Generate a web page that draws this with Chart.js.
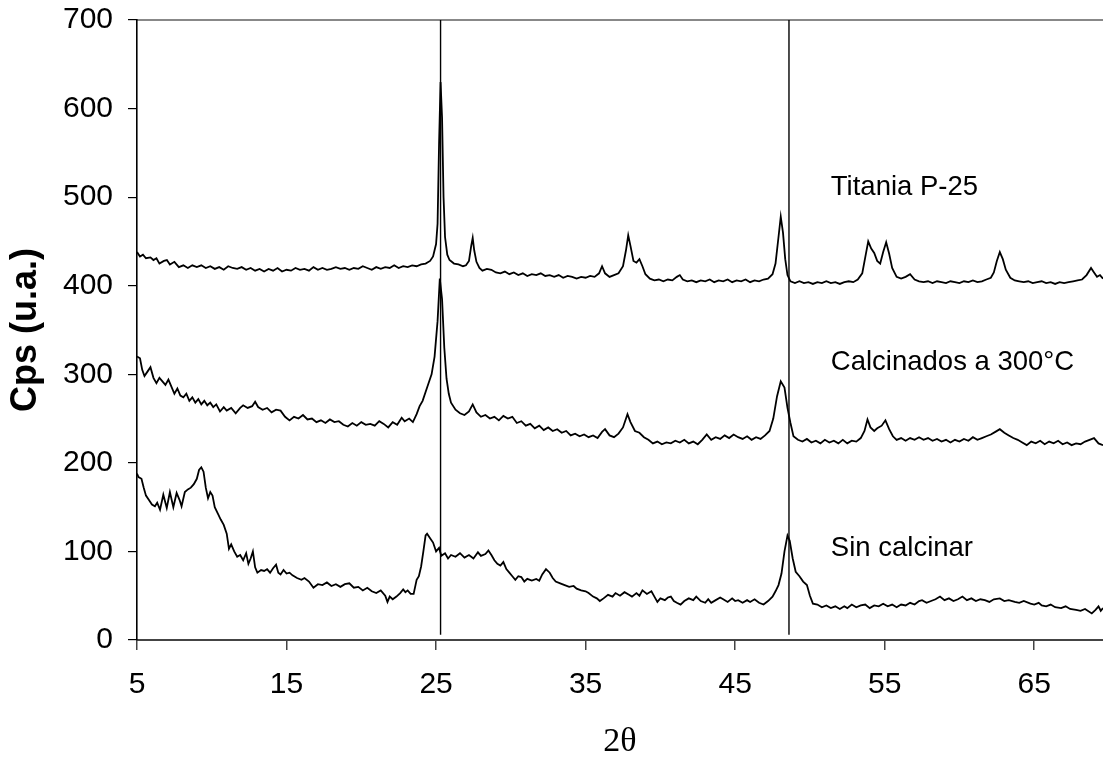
<!DOCTYPE html>
<html>
<head>
<meta charset="utf-8">
<script src="https://cdn.jsdelivr.net/npm/chart.js@4.4.1/dist/chart.umd.min.js"></script>
<style>
  html, body { margin: 0; padding: 0; background: #fff; }
  canvas { display: block; }
</style>
</head>
<body>
<canvas id="xrd-chart" width="1103" height="757"></canvas>
<script>
// axis ticks
const xTickValues = [5, 15, 25, 35, 45, 55, 65];
const yTickValues = [0, 100, 200, 300, 400, 500, 600, 700];

// [2theta, cps] pairs
const titania = [
    [5.0, 438], [5.2, 433], [5.4, 435], [5.6, 431], [5.9, 432], [6.1, 429], [6.3, 431], [6.5, 425], [6.8, 428], [7.0, 429],
    [7.2, 424], [7.5, 427], [7.8, 421], [8.1, 423], [8.4, 420], [8.7, 423], [9.0, 421], [9.3, 423], [9.6, 420], [9.9, 422],
    [10.2, 419], [10.5, 421], [10.8, 418], [11.1, 422], [11.4, 420], [11.7, 419], [12.0, 421], [12.3, 418], [12.6, 420], [12.9, 417],
    [13.2, 419], [13.5, 416], [13.8, 419], [14.1, 417], [14.4, 420], [14.7, 416], [15.0, 418], [15.3, 417], [15.6, 420], [15.9, 418],
    [16.2, 419], [16.5, 417], [16.8, 421], [17.1, 418], [17.4, 420], [17.7, 418], [18.0, 419], [18.3, 421], [18.6, 419], [18.9, 420],
    [19.2, 418], [19.5, 420], [19.8, 419], [20.1, 422], [20.4, 420], [20.7, 418], [21.0, 421], [21.3, 419], [21.6, 421], [21.9, 420],
    [22.2, 423], [22.5, 420], [22.8, 422], [23.1, 421], [23.4, 423], [23.7, 422], [24.0, 424], [24.3, 425], [24.6, 428], [24.8, 433],
    [25.0, 447], [25.1, 470], [25.2, 560], [25.3, 630], [25.4, 590], [25.5, 500], [25.6, 455], [25.75, 435], [25.9, 429], [26.2, 425],
    [26.5, 424], [26.8, 422], [27.0, 423], [27.2, 428], [27.35, 445], [27.45, 454], [27.55, 440], [27.7, 427], [27.9, 420], [28.1, 417],
    [28.4, 419], [28.7, 418], [29.0, 415], [29.3, 414], [29.6, 416], [29.9, 413], [30.2, 415], [30.5, 412], [30.8, 414], [31.1, 411],
    [31.4, 413], [31.7, 412], [32.0, 414], [32.3, 411], [32.6, 412], [32.9, 410], [33.2, 412], [33.5, 409], [33.8, 411], [34.1, 410],
    [34.4, 408], [34.7, 410], [35.0, 409], [35.3, 411], [35.6, 410], [35.9, 414], [36.1, 422], [36.3, 414], [36.6, 410], [36.9, 412],
    [37.2, 414], [37.5, 422], [37.7, 440], [37.85, 457], [38.0, 445], [38.2, 428], [38.4, 426], [38.6, 430], [38.8, 422], [39.0, 413],
    [39.3, 408], [39.6, 406], [39.9, 407], [40.2, 405], [40.5, 407], [40.8, 406], [41.1, 410], [41.3, 412], [41.5, 407], [41.8, 405],
    [42.1, 406], [42.4, 404], [42.7, 406], [43.0, 405], [43.3, 407], [43.6, 404], [43.9, 406], [44.2, 405], [44.5, 407], [44.8, 404],
    [45.1, 406], [45.4, 405], [45.7, 407], [46.0, 404], [46.3, 406], [46.6, 405], [46.9, 407], [47.2, 408], [47.5, 413], [47.7, 425],
    [47.9, 455], [48.05, 478], [48.2, 460], [48.35, 430], [48.5, 412], [48.7, 405], [49.0, 403], [49.3, 405], [49.6, 403], [49.9, 404],
    [50.2, 402], [50.5, 404], [50.8, 403], [51.1, 405], [51.4, 403], [51.7, 404], [52.0, 402], [52.3, 404], [52.6, 405], [52.9, 404],
    [53.2, 407], [53.5, 414], [53.7, 432], [53.9, 450], [54.1, 442], [54.3, 437], [54.5, 428], [54.7, 425], [54.9, 438], [55.1, 449],
    [55.3, 436], [55.5, 420], [55.8, 410], [56.1, 408], [56.4, 410], [56.7, 413], [57.0, 407], [57.3, 405], [57.6, 404], [57.9, 405],
    [58.2, 403], [58.5, 405], [58.8, 404], [59.1, 403], [59.4, 405], [59.7, 404], [60.0, 403], [60.3, 405], [60.6, 404], [60.9, 406],
    [61.2, 404], [61.5, 405], [61.8, 407], [62.1, 409], [62.3, 415], [62.5, 428], [62.7, 438], [62.9, 430], [63.1, 418], [63.4, 409],
    [63.7, 406], [64.0, 405], [64.3, 404], [64.6, 405], [64.9, 403], [65.2, 404], [65.5, 405], [65.8, 403], [66.1, 404], [66.4, 402],
    [66.7, 404], [67.0, 403], [67.3, 404], [67.6, 405], [67.9, 406], [68.2, 407], [68.5, 412], [68.8, 420], [69.0, 415], [69.2, 410],
    [69.4, 412], [69.6, 408]
];

const calcinados = [
    [5.0, 320], [5.2, 318], [5.35, 305], [5.5, 298], [5.7, 303], [5.9, 308], [6.1, 296], [6.3, 290], [6.5, 296], [6.7, 292],
    [6.9, 288], [7.1, 294], [7.3, 286], [7.5, 278], [7.7, 284], [7.9, 276], [8.1, 274], [8.3, 278], [8.5, 270], [8.7, 274],
    [8.9, 268], [9.1, 272], [9.3, 266], [9.5, 270], [9.7, 265], [9.9, 268], [10.1, 263], [10.3, 266], [10.55, 258], [10.8, 263],
    [11.0, 259], [11.3, 262], [11.6, 256], [11.9, 262], [12.1, 265], [12.4, 262], [12.7, 264], [12.9, 269], [13.1, 263], [13.4, 260],
    [13.7, 262], [14.0, 257], [14.3, 260], [14.6, 259], [14.9, 252], [15.2, 248], [15.5, 252], [15.8, 250], [16.1, 254], [16.4, 249],
    [16.7, 250], [17.0, 246], [17.3, 248], [17.6, 245], [17.9, 249], [18.2, 246], [18.5, 247], [18.8, 243], [19.1, 241], [19.4, 245],
    [19.7, 242], [20.0, 246], [20.3, 243], [20.6, 244], [20.9, 242], [21.2, 247], [21.5, 244], [21.8, 240], [22.1, 246], [22.4, 243],
    [22.7, 251], [22.9, 247], [23.2, 250], [23.45, 246], [23.7, 255], [23.9, 264], [24.1, 270], [24.4, 285], [24.7, 300], [24.9, 320],
    [25.1, 360], [25.25, 408], [25.4, 385], [25.55, 330], [25.7, 295], [25.85, 278], [26.0, 268], [26.3, 260], [26.6, 256], [26.9, 254],
    [27.2, 258], [27.45, 266], [27.7, 257], [28.0, 252], [28.3, 254], [28.6, 250], [28.9, 252], [29.2, 248], [29.5, 253], [29.8, 250],
    [30.1, 252], [30.4, 245], [30.7, 247], [31.0, 242], [31.3, 244], [31.6, 239], [31.9, 242], [32.2, 237], [32.5, 240], [32.8, 236],
    [33.1, 238], [33.4, 234], [33.7, 236], [34.0, 231], [34.3, 233], [34.6, 230], [34.9, 232], [35.2, 229], [35.5, 231], [35.8, 228],
    [36.1, 235], [36.3, 238], [36.6, 231], [36.9, 229], [37.2, 233], [37.5, 240], [37.8, 255], [38.0, 246], [38.3, 236], [38.6, 234],
    [38.9, 229], [39.2, 226], [39.5, 222], [39.8, 224], [40.1, 221], [40.4, 223], [40.7, 222], [41.0, 225], [41.3, 223], [41.6, 226],
    [41.9, 222], [42.2, 224], [42.5, 221], [42.8, 226], [43.1, 232], [43.4, 226], [43.7, 229], [44.0, 227], [44.3, 231], [44.6, 228],
    [44.9, 232], [45.2, 229], [45.5, 227], [45.8, 230], [46.1, 226], [46.4, 229], [46.7, 227], [47.0, 231], [47.3, 236], [47.55, 250],
    [47.8, 275], [48.05, 292], [48.3, 285], [48.5, 262], [48.7, 245], [48.9, 230], [49.2, 226], [49.5, 224], [49.8, 227], [50.1, 223],
    [50.4, 225], [50.7, 222], [51.0, 226], [51.3, 223], [51.6, 225], [51.9, 222], [52.2, 226], [52.5, 222], [52.8, 225], [53.1, 224],
    [53.4, 228], [53.65, 236], [53.85, 249], [54.05, 240], [54.3, 236], [54.5, 239], [54.8, 242], [55.05, 248], [55.3, 238], [55.55, 230],
    [55.8, 226], [56.1, 228], [56.4, 225], [56.7, 228], [57.0, 226], [57.3, 229], [57.6, 226], [57.9, 228], [58.2, 225], [58.5, 227],
    [58.8, 224], [59.1, 226], [59.4, 223], [59.7, 226], [60.0, 224], [60.3, 227], [60.6, 225], [60.9, 229], [61.2, 226], [61.5, 228],
    [61.8, 230], [62.1, 232], [62.4, 235], [62.7, 238], [63.0, 234], [63.3, 231], [63.6, 228], [63.9, 226], [64.2, 223], [64.5, 220],
    [64.8, 224], [65.1, 222], [65.4, 225], [65.7, 221], [66.0, 224], [66.3, 222], [66.6, 225], [66.9, 221], [67.2, 223], [67.5, 220],
    [67.8, 222], [68.1, 221], [68.4, 224], [68.7, 226], [69.0, 228], [69.3, 222], [69.6, 220]
];

const sinCalcinar = [
    [5.0, 188], [5.1, 184], [5.3, 182], [5.45, 172], [5.6, 163], [5.8, 158], [6.0, 153], [6.2, 151], [6.35, 155], [6.54, 147],
    [6.76, 164], [6.99, 149], [7.2, 167], [7.43, 150], [7.65, 166], [7.85, 158], [7.98, 151], [8.2, 167], [8.4, 170], [8.6, 172],
    [8.8, 176], [9.0, 182], [9.15, 192], [9.3, 195], [9.45, 190], [9.6, 172], [9.75, 160],
    [9.9, 167], [10.05, 163], [10.2, 150], [10.4, 143], [10.6, 136], [10.8, 130], [11.0, 120], [11.15, 103], [11.3, 108], [11.5, 100],
    [11.7, 94], [11.9, 96], [12.1, 90], [12.3, 98], [12.45, 86], [12.6, 92], [12.75, 100], [12.9, 82], [13.05, 76], [13.3, 79],
    [13.5, 78], [13.7, 80], [13.9, 76], [14.1, 81], [14.3, 85], [14.45, 76], [14.6, 74], [14.8, 79], [15.0, 75], [15.2, 76],
    [15.4, 73], [15.7, 70], [16.0, 68], [16.2, 70], [16.5, 66], [16.8, 59], [17.1, 63], [17.4, 62], [17.7, 65], [18.0, 61],
    [18.3, 63], [18.6, 60], [18.9, 63], [19.2, 64], [19.5, 59], [19.8, 60], [20.1, 56], [20.4, 59], [20.7, 55], [21.0, 53],
    [21.3, 56], [21.6, 50], [21.75, 43], [21.9, 49], [22.1, 46], [22.35, 49], [22.6, 53], [22.8, 57], [22.95, 54], [23.1, 56],
    [23.3, 52], [23.5, 52], [23.7, 68], [23.85, 72], [24.0, 83], [24.15, 100], [24.3, 118], [24.4, 120], [24.6, 115], [24.8, 110],
    [25.0, 100], [25.2, 104], [25.35, 95], [25.6, 98], [25.8, 92], [26.0, 96], [26.3, 94], [26.6, 98], [26.9, 93], [27.2, 96],
    [27.5, 92], [27.8, 99], [28.0, 95], [28.3, 97], [28.5, 101], [28.7, 96], [28.9, 90], [29.1, 86], [29.3, 84], [29.5, 88],
    [29.7, 80], [29.9, 76], [30.1, 72], [30.3, 68], [30.5, 72], [30.7, 71], [30.9, 66], [31.1, 69], [31.4, 67], [31.7, 69],
    [31.9, 67], [32.1, 74], [32.35, 80], [32.6, 76], [32.8, 70], [33.0, 66], [33.3, 64], [33.6, 62], [33.9, 60], [34.2, 61],
    [34.4, 58], [34.7, 56], [35.0, 55], [35.2, 53], [35.5, 49], [35.75, 47], [35.95, 44], [36.2, 47], [36.5, 51], [36.8, 49],
    [37.0, 53], [37.3, 50], [37.6, 54], [37.9, 51], [38.1, 49], [38.4, 53], [38.6, 50], [38.8, 56], [39.1, 52], [39.4, 55],
    [39.6, 49], [39.8, 43], [40.0, 47], [40.3, 45], [40.5, 48], [40.7, 49], [40.9, 44], [41.1, 42], [41.35, 40], [41.6, 44],
    [41.9, 47], [42.2, 45], [42.4, 49], [42.7, 44], [43.0, 42], [43.2, 46], [43.4, 42], [43.7, 45], [44.0, 48], [44.2, 46],
    [44.5, 43], [44.8, 47], [45.0, 44], [45.2, 45], [45.5, 42], [45.8, 45], [46.0, 43], [46.3, 46], [46.6, 42], [46.9, 40],
    [47.2, 44], [47.5, 49], [47.7, 55], [47.9, 62], [48.1, 75], [48.3, 100], [48.5, 118], [48.65, 112], [48.85, 92], [49.05, 77],
    [49.3, 72], [49.55, 66], [49.8, 62], [50.0, 50], [50.2, 41], [50.5, 40], [50.8, 37], [51.1, 39], [51.4, 36], [51.7, 38],
    [52.0, 35], [52.3, 38], [52.5, 36], [52.8, 40], [53.1, 37], [53.4, 39], [53.7, 40], [54.0, 36], [54.3, 39], [54.6, 38],
    [54.9, 41], [55.2, 38], [55.5, 40], [55.8, 37], [56.1, 40], [56.4, 39], [56.7, 42], [57.0, 40], [57.3, 44], [57.5, 45],
    [57.8, 42], [58.1, 44], [58.4, 46], [58.7, 49], [59.0, 45], [59.3, 47], [59.6, 44], [59.9, 46], [60.2, 49], [60.5, 45],
    [60.8, 47], [61.1, 44], [61.4, 46], [61.7, 45], [62.0, 43], [62.3, 46], [62.7, 47], [63.0, 44], [63.3, 45], [63.7, 43],
    [64.0, 42], [64.3, 44], [64.75, 41], [65.0, 40], [65.3, 42], [65.5, 39], [65.8, 38], [66.1, 40], [66.4, 37], [66.8, 36],
    [67.1, 38], [67.4, 35], [67.8, 34], [68.1, 33], [68.4, 35], [68.85, 30], [69.1, 34], [69.3, 38], [69.45, 33], [69.6, 36]
];

// vertical marker lines at the anatase peaks
const refLineX = [25.3, 48.6];
const refLineRange = [6, 700];

// curve labels
const labelText = ['Titania P-25', 'Calcinados a 300\u00B0C', 'Sin calcinar'];
const labelX = [51.4, 51.4, 51.4];
const labelY = [511, 313, 103];

const sansFont = 'Arial, "Liberation Sans", sans-serif';
const toPoints = (pairs) => pairs.map(p => ({ x: p[0], y: p[1] }));

var datasets = [
    { data: toPoints(titania) },
    { data: toPoints(calcinados) },
    { data: toPoints(sinCalcinar) }
].map(ds => Object.assign(ds, { borderColor: '#000', borderWidth: 1.8, pointRadius: 0, tension: 0 }));

refLineX.forEach(x => {
    datasets.push({
        data: refLineRange.map(y => ({ x: x, y: y })),
        borderColor: '#000',
        borderWidth: 1.4,
        pointRadius: 0
    });
});

// draws the text next to each curve
const curveLabels = {
    id: 'curveLabels',
    afterDatasetsDraw(chart) {
        const { ctx, scales } = chart;
        ctx.save();
        ctx.font = '27.5px ' + sansFont;
        ctx.fillStyle = '#000';
        ctx.textAlign = 'left';
        ctx.textBaseline = 'middle';
        labelText.forEach((t, i) => {
            ctx.fillText(t, scales.x.getPixelForValue(labelX[i]), scales.y.getPixelForValue(labelY[i]));
        });
        ctx.restore();
    }
};

var chart = new Chart(document.getElementById('xrd-chart'), {
    type: 'line',
    data: { datasets: datasets },
    plugins: [curveLabels],
    options: {
        responsive: false,
        animation: false,
        devicePixelRatio: 1,
        layout: { padding: { top: 20, left: 0, right: 0, bottom: 0 } },
        plugins: { legend: { display: false }, tooltip: { enabled: false } },
        scales: {
            x: {
                type: 'linear',
                position: 'bottom',
                min: 5,
                max: 69.6,
                afterBuildTicks: (axis) => { axis.ticks = xTickValues.map(v => ({ value: v })); },
                afterFit: (axis) => { axis.height = 117; axis.paddingLeft = 0; axis.paddingRight = 0; },
                grid: { drawOnChartArea: false, drawTicks: true, tickLength: 10, color: '#444', lineWidth: 1.5 },
                border: { display: true, color: '#444', width: 2 },
                ticks: { color: '#000', padding: 17, maxRotation: 0, autoSkip: false, font: { family: sansFont, size: 30 } },
                title: {
                    display: true,
                    text: '2\u03B8',
                    color: '#000',
                    padding: { top: 0, bottom: 0 },
                    font: { family: '"Times New Roman", "Liberation Serif", serif', size: 34, lineHeight: 0.9 }
                }
            },
            xTop: {
                type: 'linear',
                position: 'top',
                min: 5,
                max: 69.6,
                afterFit: (axis) => { axis.height = 0; axis.paddingLeft = 0; axis.paddingRight = 0; },
                grid: { display: false, drawTicks: false },
                border: { display: true, color: '#888', width: 2 },
                ticks: { display: false }
            },
            y: {
                min: 0,
                max: 700,
                afterBuildTicks: (axis) => { axis.ticks = yTickValues.map(v => ({ value: v })); },
                afterFit: (axis) => { axis.width = 137; axis.paddingTop = 0; axis.paddingBottom = 0; },
                grid: { drawOnChartArea: false, drawTicks: true, tickLength: 9, color: '#000', lineWidth: 1.2 },
                border: { display: true, color: '#000', width: 1.6 },
                ticks: { color: '#000', padding: 15, font: { family: sansFont, size: 30 } },
                title: {
                    display: true,
                    text: 'Cps (u.a.)',
                    color: '#000',
                    padding: { top: 4, bottom: 0 },
                    font: { family: sansFont, size: 36, weight: 'bold' }
                }
            }
        }
    }
});
</script>
</body>
</html>
